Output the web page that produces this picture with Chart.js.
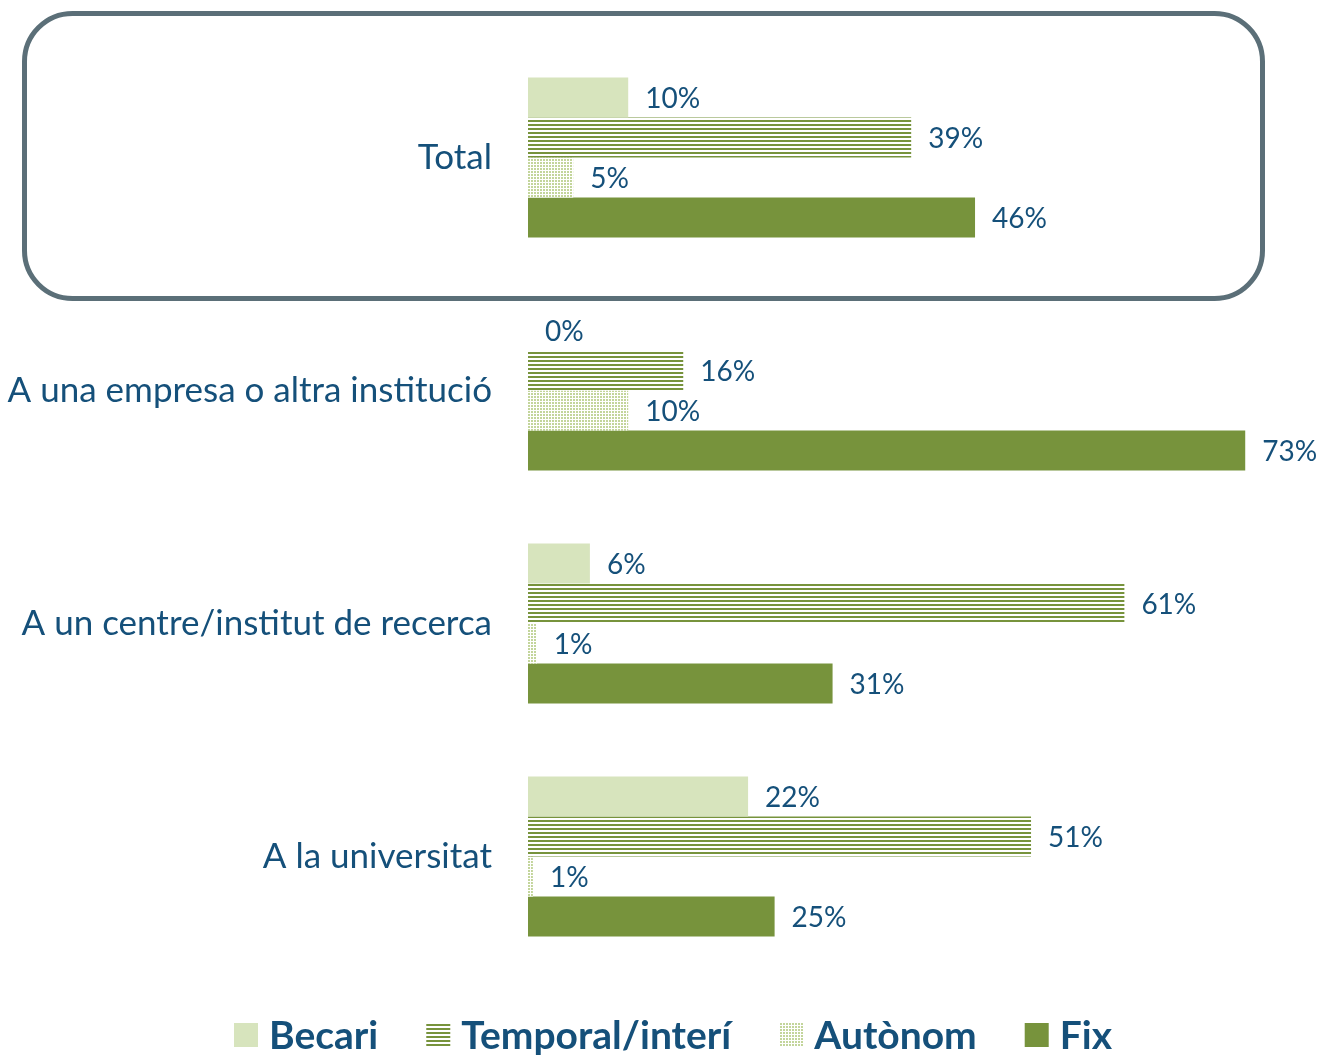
<!DOCTYPE html>
<html>
<head>
<meta charset="utf-8">
<script src="https://cdn.jsdelivr.net/npm/chart.js@4/dist/chart.umd.min.js"></script>
<style>
  html, body { margin: 0; padding: 0; background: #fff; }
  #wrap { position: relative; width: 1321px; height: 1055px; }
</style>
</head>
<body>
<div id="wrap"><canvas id="chart"></canvas></div>
<script>
const categories = ["Total", "A una empresa o altra institució", "A un centre/institut de recerca", "A la universitat"];
const seriesNames = ["Becari", "Temporal/interí", "Autònom", "Fix"];
// shares in % (labels show them rounded)
const becari = [10.2, 0, 6.3, 22.4];
const temporal = [39.0, 15.8, 60.7, 51.2];
const autonom = [4.6, 10.2, 0.9, 0.5];
const fix = [45.5, 73.0, 31.0, 25.1];

const TEXT = "#15507a";
const GREEN = "#77933c";
const LIGHT = "#d7e4bd";

function stripePattern() {
  const c = document.createElement("canvas");
  c.width = 4; c.height = 4;
  const g = c.getContext("2d");
  g.fillStyle = "#fff";
  g.fillRect(0, 0, 4, 4);
  g.fillStyle = GREEN;
  g.fillRect(0, 0, 4, 2);
  return g.createPattern(c, "repeat");
}

function dotPattern() {
  const c = document.createElement("canvas");
  c.width = 3; c.height = 3;
  const g = c.getContext("2d");
  g.fillStyle = "#fff";
  g.fillRect(0, 0, 3, 3);
  g.fillStyle = "#c3d59b";
  g.fillRect(0, 0, 2, 2);
  return g.createPattern(c, "repeat");
}

// rounded frame round the "Total" group
const framePlugin = {
  id: "frame",
  beforeDatasetsDraw(chart) {
    const ctx = chart.ctx;
    ctx.save();
    ctx.strokeStyle = "#5b6f78";
    ctx.lineWidth = 5;
    ctx.beginPath();
    ctx.roundRect(24.5, 13.5, 1238, 285, 48);
    ctx.stroke();
    ctx.restore();
  },
};

const valueLabels = {
  id: "valueLabels",
  afterDatasetsDraw(chart) {
    const ctx = chart.ctx;
    ctx.save();
    ctx.font = "28px Lato";
    ctx.fillStyle = TEXT;
    ctx.textAlign = "left";
    ctx.textBaseline = "middle";
    chart.data.datasets.forEach((ds, di) => {
      chart.getDatasetMeta(di).data.forEach((bar, i) => {
        ctx.fillText(Math.round(ds.data[i]) + "%", bar.x + 17, bar.y + 1);
      });
    });
    ctx.restore();
  },
};

// legend drawn by hand so box/text gaps match the original
const legendPlugin = {
  id: "bottomLegend",
  afterDraw(chart) {
    const ctx = chart.ctx;
    const box = 24, gap = 11, spacing = 48, y = 1035;
    ctx.save();
    ctx.font = "bold 39px Lato";
    ctx.textBaseline = "middle";
    ctx.textAlign = "left";
    const widths = chart.data.datasets.map((ds) => box + gap + ctx.measureText(ds.label).width);
    const total = widths.reduce((a, b) => a + b, 0) + spacing * (widths.length - 1);
    let x = 673 - total / 2;
    chart.data.datasets.forEach((ds, i) => {
      ctx.fillStyle = ds.backgroundColor;
      ctx.fillRect(x, y - box / 2, box, box);
      ctx.fillStyle = TEXT;
      ctx.fillText(ds.label, x + box + gap, y + 1);
      x += widths[i] + spacing;
    });
    ctx.restore();
  },
};

new Chart(document.getElementById("chart"), {
  type: "bar",
  data: {
    labels: categories,
    datasets: [
      { label: seriesNames[0], data: becari, backgroundColor: LIGHT },
      { label: seriesNames[1], data: temporal, backgroundColor: stripePattern() },
      { label: seriesNames[2], data: autonom, backgroundColor: dotPattern() },
      { label: seriesNames[3], data: fix, backgroundColor: GREEN },
    ],
  },
  options: {
    indexAxis: "y",
    responsive: true,
    maintainAspectRatio: false,
    animation: false,
    datasets: { bar: { categoryPercentage: 0.687, barPercentage: 1.0 } },
    layout: { padding: { top: 41, right: 7, left: 0, bottom: 82 } },
    scales: {
      x: { display: false, min: 0, max: 80 },
      y: {
        grid: { display: false },
        border: { display: false },
        ticks: { color: TEXT, font: { family: "Lato", size: 35 }, padding: 28 },
        afterFit(scale) {
          scale.width = 528;
          scale.paddingTop = 0;
          scale.paddingBottom = 0;
        },
      },
    },
    plugins: {
      tooltip: { enabled: false },
      legend: { display: false },
    },
  },
  plugins: [framePlugin, valueLabels, legendPlugin],
});
</script>
</body>
</html>
